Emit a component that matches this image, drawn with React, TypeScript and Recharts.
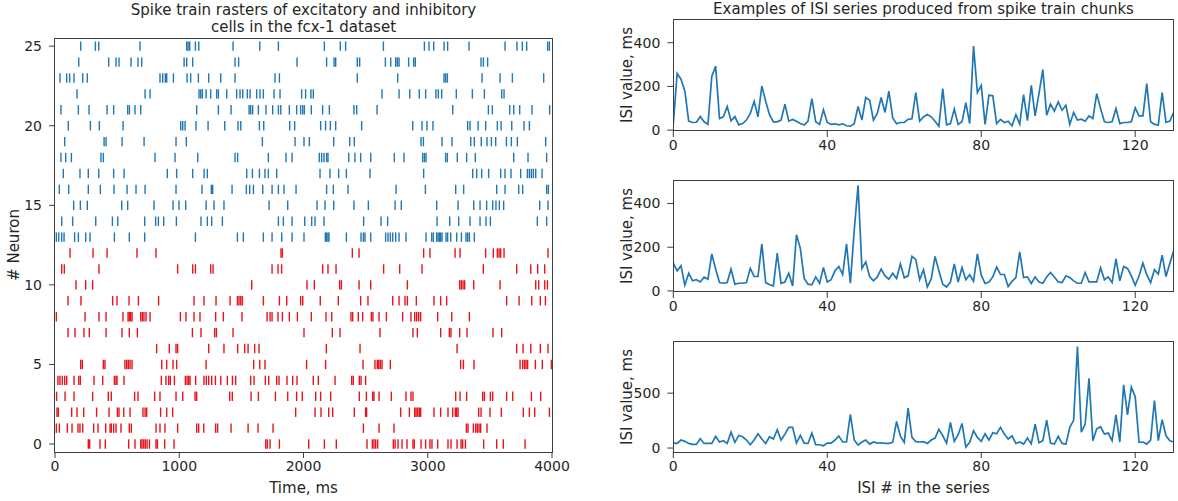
import React from 'react';
import { ScatterChart, Scatter, LineChart, Line, XAxis, YAxis } from 'recharts';

const FONT = '"DejaVu Sans", sans-serif';
const INK = '#262626';
const FRAME = '#3d3d3d';
const BLUE = '#1f77b4';
const RED = '#e8141b';

// spike times (ms) per neuron
const n0 = [268, 279, 362, 405, 593, 644, 690, 700, 714, 727, 741, 760, 813, 824, 883, 958, 1696, 1709, 1731, 1806, 2042, 2168, 2264, 2511, 2554, 2567, 2581, 2597, 2723, 2737, 2761, 2793, 2833, 2881, 2892, 2946, 2983, 3018, 3034, 3080, 3163, 3187, 3236, 3268, 3281, 3303, 3450, 3555, 3608, 3783];
const n1 = [11, 35, 99, 137, 185, 201, 223, 311, 346, 408, 443, 453, 472, 491, 531, 598, 614, 813, 845, 885, 987, 1140, 1156, 1197, 1293, 1309, 1417, 1554, 1634, 1755, 2482, 2608, 2728, 3311, 3324, 3367, 3386, 3399, 3413, 3426, 3477];
const n2 = [16, 27, 134, 177, 231, 335, 435, 502, 515, 553, 604, 708, 725, 738, 850, 899, 947, 1937, 2093, 2141, 2203, 2235, 2409, 2500, 2508, 2782, 2852, 2895, 2906, 2919, 2932, 2943, 3050, 3104, 3163, 3201, 3222, 3233, 3244, 3410, 3429, 3501, 3592, 3769, 3818, 3861, 3979];
const n3 = [13, 81, 153, 303, 429, 453, 641, 668, 802, 845, 974, 1028, 1127, 1140, 1406, 1427, 1578, 1637, 1774, 1873, 1945, 1990, 2098, 2138, 2219, 2449, 2506, 2557, 2567, 2608, 2707, 2825, 2865, 2881, 3225, 3260, 3313, 3442, 3456, 3504, 3523, 3635, 3684, 3834, 3909];
const n4 = [24, 40, 59, 78, 94, 153, 191, 204, 314, 384, 478, 491, 499, 555, 856, 893, 915, 928, 961, 1049, 1063, 1076, 1087, 1132, 1199, 1218, 1237, 1261, 1291, 1334, 1387, 1428, 1454, 1575, 1602, 1693, 1720, 1784, 1803, 1867, 1913, 1948, 2079, 2119, 2254, 2388, 2401, 2449, 2463, 2500];
const n5 = [207, 220, 389, 402, 563, 577, 590, 604, 620, 859, 899, 950, 979, 1216, 1599, 1648, 1690, 2025, 2178, 2479, 2575, 2594, 2605, 2618, 2632, 2699, 3265, 3287, 3372, 3743, 3764, 3778, 3791, 3804, 3866, 3922, 3995];
const n6 = [818, 920, 974, 987, 1237, 1360, 1470, 1527, 1554, 1607, 1642, 2184, 2455, 3236, 3716, 3767, 3829, 3906, 3968];
const n7 = [105, 161, 233, 276, 411, 539, 598, 663, 1106, 1175, 1285, 1299, 1433, 2004, 2232, 2294, 2616, 2881, 2916, 3104, 3174, 3187, 3257, 3316, 3525, 3595];
const n8 = [11, 242, 354, 411, 547, 588, 598, 609, 620, 690, 703, 716, 733, 765, 1009, 1054, 1119, 1167, 1293, 1355, 1505, 1707, 1731, 1747, 1795, 1830, 1886, 1951, 2063, 2181, 2227, 2382, 2396, 2441, 2476, 2546, 2559, 2608, 2667, 2798, 2865, 2895, 2911, 2927, 2943, 3080, 3193, 3335];
const n9 = [105, 209, 464, 499, 596, 671, 834, 1119, 1199, 1296, 1409, 1468, 1481, 1495, 1508, 1677, 1806, 1865, 1977, 1994, 2135, 2280, 2460, 2519, 2718, 2769, 2817, 2836, 2908, 3050, 3104, 3152, 3635, 3735, 3837, 3906, 3947];
const n10 = [169, 247, 303, 1583, 2028, 2087, 2291, 2305, 2447, 2541, 2836, 3257, 3270, 3284, 3297, 3370, 3582, 3869, 3893, 3941, 3963];
const n11 = [54, 75, 354, 987, 1108, 1130, 1253, 1272, 1747, 1795, 1824, 2154, 2197, 2262, 2645, 2774, 2954, 3447, 3716, 3829, 3885, 3941];
const n12 = [121, 306, 419, 660, 813, 1819, 1830, 2393, 2447, 2967, 3018, 3220, 3260, 3466, 3528, 3560, 3574, 3587, 3614, 3968];
const n13 = [11, 30, 54, 73, 158, 188, 247, 282, 478, 598, 722, 1130, 1468, 1516, 1677, 1747, 1825, 1908, 2004, 2176, 2186, 2197, 2205, 2345, 2463, 2482, 2495, 2541, 2661, 2680, 2699, 2718, 2742, 2769, 2825, 2986, 3032, 3045, 3072, 3083, 3093, 3104, 3115, 3147, 3160, 3185, 3233, 3271, 3308, 3321, 3335, 3375];
const n14 = [54, 142, 328, 462, 505, 722, 810, 832, 875, 977, 1175, 1226, 1261, 1347, 1798, 1838, 1908, 2010, 2066, 2093, 2165, 2484, 2624, 2677, 3075, 3177, 3249, 3340, 3421, 3469, 3504, 3882, 3957];
const n15 = [150, 204, 260, 537, 585, 797, 950, 998, 1052, 1216, 1280, 1360, 1723, 1873, 2109, 2173, 2243, 2406, 2522, 2737, 2787, 3072, 3244, 3370, 3421, 3474, 3523, 3549, 3576, 3611, 3901, 3968];
const n16 = [35, 110, 268, 365, 475, 580, 652, 725, 974, 1183, 1258, 1269, 1425, 1540, 1567, 1597, 1672, 1747, 1798, 1843, 1940, 2186, 2240, 2358, 2745, 2981, 3225, 3289, 3555, 3622, 3732, 3764, 3957, 3971];
const n17 = [67, 201, 268, 352, 472, 556, 904, 979, 1108, 1200, 1226, 1543, 1589, 1645, 1690, 1717, 1784, 2133, 2213, 2283, 2345, 2535, 2967, 3362, 3394, 3434, 3490, 3587, 3622, 3670, 3748, 3802, 3818, 3834, 3850, 3869, 3920];
const n18 = [48, 86, 132, 370, 389, 805, 966, 1149, 1449, 1470, 1717, 1859, 1908, 2127, 2146, 2165, 2186, 2197, 2364, 2414, 2460, 2541, 2731, 2809, 2959, 2973, 2986, 3144, 3158, 3238, 3313, 3383, 3692, 3807, 3957];
const n19 = [78, 395, 411, 540, 717, 974, 1057, 1669, 1932, 2004, 2047, 2243, 2372, 2409, 2946, 2965, 3115, 3195, 3346, 3375, 3431, 3477, 3512, 3547, 3633, 3673, 3721, 3949];
const n20 = [107, 285, 357, 548, 1012, 1028, 1047, 1135, 1232, 1366, 1473, 1495, 1645, 1680, 1889, 1929, 2138, 2178, 2216, 2259, 2468, 2879, 2954, 2994, 3042, 3321, 3340, 3405, 3466, 3560, 3590, 3676, 3775, 3818];
const n21 = [48, 188, 274, 419, 472, 585, 599, 644, 690, 1140, 1315, 1417, 1562, 1575, 1591, 1637, 1698, 1752, 1798, 1817, 1886, 1945, 1977, 1994, 2007, 2063, 2154, 2208, 2406, 2428, 2592, 3201, 3488, 3520, 3660, 3692, 3740, 3839, 3981];
const n22 = [177, 725, 765, 1159, 1173, 1186, 1216, 1253, 1301, 1315, 1382, 1462, 1489, 1511, 1548, 1570, 1623, 1650, 1677, 1763, 1811, 1985, 2017, 2060, 2079, 2632, 2769, 2855, 2932, 2983, 3066, 3085, 3112, 3230, 3359, 3456, 3595, 3614];
const n23 = [40, 94, 118, 153, 223, 260, 845, 867, 888, 899, 953, 1063, 1092, 1154, 1237, 1334, 1449, 1771, 1806, 2433, 2758, 3131, 3144, 3158, 3437, 3582, 3681, 3933];
const n24 = [191, 432, 491, 515, 612, 668, 698, 1039, 1060, 1108, 1449, 1478, 1948, 2186, 2246, 2259, 2433, 2452, 2659, 2702, 2742, 2755, 2769, 2846, 2887, 2900, 3429, 3448, 3482];
const n25 = [207, 325, 352, 684, 1060, 1071, 1084, 1130, 1157, 1433, 1648, 1798, 2168, 2296, 2339, 2643, 2973, 3010, 3048, 3131, 3160, 3332, 3622, 3718, 3761, 3796, 3965, 3979];

const inhibitory = [n0, n1, n2, n3, n4, n5, n6, n7, n8, n9, n10, n11, n12];
const excitatory = [n13, n14, n15, n16, n17, n18, n19, n20, n21, n22, n23, n24, n25];

// ISI series (ms), one value per index 0..130
const isiTop = [30, 259, 233, 178, 41, 35, 36, 62, 38, 27, 246, 293, 53, 61, 108, 43, 62, 24, 30, 46, 76, 132, 61, 202, 132, 71, 38, 38, 46, 119, 41, 49, 41, 30, 23, 41, 144, 38, 26, 93, 35, 26, 29, 24, 29, 20, 18, 29, 108, 46, 149, 137, 46, 76, 149, 81, 178, 56, 29, 35, 35, 49, 52, 172, 41, 60, 71, 61, 41, 18, 190, 24, 30, 96, 26, 38, 126, 30, 385, 172, 205, 26, 160, 157, 30, 49, 35, 41, 20, 71, 27, 163, 43, 205, 65, 167, 277, 68, 119, 87, 129, 91, 114, 26, 81, 46, 50, 41, 65, 53, 167, 99, 38, 35, 38, 99, 30, 35, 35, 38, 102, 65, 65, 213, 38, 26, 23, 172, 35, 41, 81];
const isiMid = [127, 92, 115, 26, 81, 46, 51, 41, 63, 54, 169, 100, 38, 35, 38, 100, 31, 35, 35, 38, 103, 66, 66, 215, 38, 28, 23, 173, 35, 41, 81, 23, 257, 195, 57, 31, 28, 64, 35, 107, 41, 51, 92, 112, 75, 215, 35, 276, 483, 103, 133, 66, 46, 64, 100, 69, 54, 81, 57, 123, 60, 69, 158, 143, 51, 97, 18, 54, 158, 92, 31, 18, 41, 123, 41, 107, 51, 74, 44, 169, 72, 34, 41, 64, 109, 75, 75, 20, 44, 61, 179, 61, 64, 34, 64, 41, 35, 64, 84, 64, 41, 38, 69, 61, 46, 35, 35, 84, 41, 41, 41, 106, 51, 64, 38, 146, 46, 112, 103, 69, 26, 69, 127, 74, 38, 97, 77, 164, 66, 127, 184];
const isiLow = [45, 42, 73, 61, 42, 33, 33, 85, 42, 42, 42, 106, 55, 67, 42, 145, 52, 115, 103, 73, 30, 73, 130, 82, 42, 103, 82, 167, 73, 127, 188, 188, 45, 115, 45, 42, 136, 30, 30, 21, 45, 45, 73, 109, 55, 55, 306, 73, 27, 55, 73, 36, 55, 45, 48, 42, 42, 52, 242, 109, 52, 364, 97, 58, 55, 58, 42, 73, 91, 170, 112, 45, 233, 61, 121, 224, 10, 52, 158, 97, 61, 130, 73, 139, 130, 188, 127, 82, 112, 42, 55, 36, 91, 39, 218, 48, 67, 255, 45, 36, 106, 42, 36, 188, 252, 924, 145, 218, 636, 67, 176, 194, 127, 136, 67, 303, 55, 576, 303, 555, 467, 52, 55, 36, 73, 433, 67, 258, 112, 67, 55];

const rasterXTicks = [0, 1000, 2000, 3000, 4000];
const rasterYTicks = [0, 5, 10, 15, 20, 25];
const isiXTicks = [0, 40, 80, 120];
const isiYTicksSmall = [0, 200, 400];
const isiYTicksLarge = [0, 500];

const toPoints = (trains: number[][], first: number) =>
  trains.flatMap((times, k) => times.map((t) => ({ t, n: first + k })));

const redPoints = toPoints(inhibitory, 0);
const bluePoints = toPoints(excitatory, 13);

const toSeries = (values: number[]) => values.map((v, i) => ({ i, v }));

const spikeShape = (color: string) => (props: any) => {
  const { cx, cy } = props;
  return <line x1={cx} x2={cx} y1={cy - 4.7} y2={cy + 4.7} stroke={color} strokeWidth={1.4} />;
};

const tickStyle = { fill: INK, fontSize: 14 };

// box drawn around a plot area (all four spines)
const Frame = ({ left, top, width, height }: { left: number; top: number; width: number; height: number }) => (
  <div
    style={{
      position: 'absolute',
      left: left - 0.6,
      top: top - 0.6,
      width: width + 1.2,
      height: height + 1.2,
      boxSizing: 'border-box',
      border: `1.2px solid ${FRAME}`,
      pointerEvents: 'none',
    }}
  />
);

const Label = ({ x, y, text, rotate = false, size = 15 }: { x: number; y: number; text: string; rotate?: boolean; size?: number }) => (
  <div
    style={{
      position: 'absolute',
      left: x,
      top: y,
      transform: `translate(-50%, -50%)${rotate ? ' rotate(-90deg)' : ''}`,
      whiteSpace: 'nowrap',
      fontSize: size,
      color: INK,
      lineHeight: '17px',
      textAlign: 'center',
    }}
  >
    {text}
  </div>
);

interface IsiPanelProps {
  values: number[];
  plotTop: number;
  domain: [number, number];
  yTicks: number[];
}

const PLOT_H = 111;
const ISI_LEFT = 673.3;
const ISI_W = 500.4;

const IsiPanel: React.FC<IsiPanelProps> = ({ values, plotTop, domain, yTicks }) => (
  <>
    <div style={{ position: 'absolute', left: 600, top: plotTop - 10 }}>
      <LineChart width={578} height={PLOT_H + 40} data={toSeries(values)} margin={{ top: 10, right: 4.3, bottom: 0, left: 0 }}>
        <XAxis
          dataKey="i"
          type="number"
          domain={[0, 130]}
          ticks={isiXTicks}
          allowDataOverflow
          height={30}
          tickSize={6}
          tickMargin={3}
          axisLine={false}
          stroke={FRAME}
          tick={tickStyle}
        />
        <YAxis
          type="number"
          domain={domain}
          ticks={yTicks}
          allowDataOverflow
          width={ISI_LEFT - 600}
          tickSize={6}
          tickMargin={7}
          axisLine={false}
          stroke={FRAME}
          tick={tickStyle}
        />
        <Line type="linear" dataKey="v" stroke={BLUE} strokeWidth={1.7} dot={false} isAnimationActive={false} />
      </LineChart>
    </div>
    <Frame left={ISI_LEFT} top={plotTop} width={ISI_W} height={PLOT_H} />
  </>
);

const App: React.FC = () => (
  <div style={{ position: 'absolute', left: 0, top: 0, width: 1178, height: 501, background: '#fff', fontFamily: FONT, color: INK }}>
    <div style={{ position: 'absolute', left: 0, top: 0 }}>
      <ScatterChart width={600} height={501} margin={{ top: 39, right: 48, bottom: 19, left: 0 }}>
        <XAxis
          dataKey="t"
          type="number"
          domain={[0, 4000]}
          ticks={rasterXTicks}
          allowDataOverflow
          height={30}
          tickSize={6}
          tickMargin={3}
          axisLine={false}
          stroke={FRAME}
          tick={tickStyle}
        />
        <YAxis
          dataKey="n"
          type="number"
          domain={[-0.5, 25.45]}
          ticks={rasterYTicks}
          allowDataOverflow
          width={55}
          tickSize={6}
          tickMargin={7}
          axisLine={false}
          stroke={FRAME}
          tick={tickStyle}
        />
        <Scatter data={redPoints} shape={spikeShape(RED)} isAnimationActive={false} />
        <Scatter data={bluePoints} shape={spikeShape(BLUE)} isAnimationActive={false} />
      </ScatterChart>
    </div>
    <Frame left={55} top={39} width={497} height={413} />

    <IsiPanel values={isiTop} plotTop={19.7} domain={[-4, 504]} yTicks={isiYTicksSmall} />
    <IsiPanel values={isiMid} plotTop={180.5} domain={[-5, 503]} yTicks={isiYTicksSmall} />
    <IsiPanel values={isiLow} plotTop={341.3} domain={[-36, 975]} yTicks={isiYTicksLarge} />

    <div style={{ position: 'absolute', left: 303.5, top: 2, transform: 'translateX(-50%)', width: 500, textAlign: 'center', fontSize: 15, lineHeight: '17px' }}>
      Spike train rasters of excitatory and inhibitory
      <br />
      cells in the fcx-1 dataset
    </div>
    <Label x={923.5} y={9} text="Examples of ISI series produced from spike train chunks" />
    <Label x={303.5} y={488} text="Time, ms" />
    <Label x={14} y={245} text="# Neuron" rotate />
    <Label x={923.5} y={488} text="ISI # in the series" />
    <Label x={627} y={75} text="ISI value, ms" rotate />
    <Label x={627} y={236} text="ISI value, ms" rotate />
    <Label x={627} y={397} text="ISI value, ms" rotate />
  </div>
);

export default App;
